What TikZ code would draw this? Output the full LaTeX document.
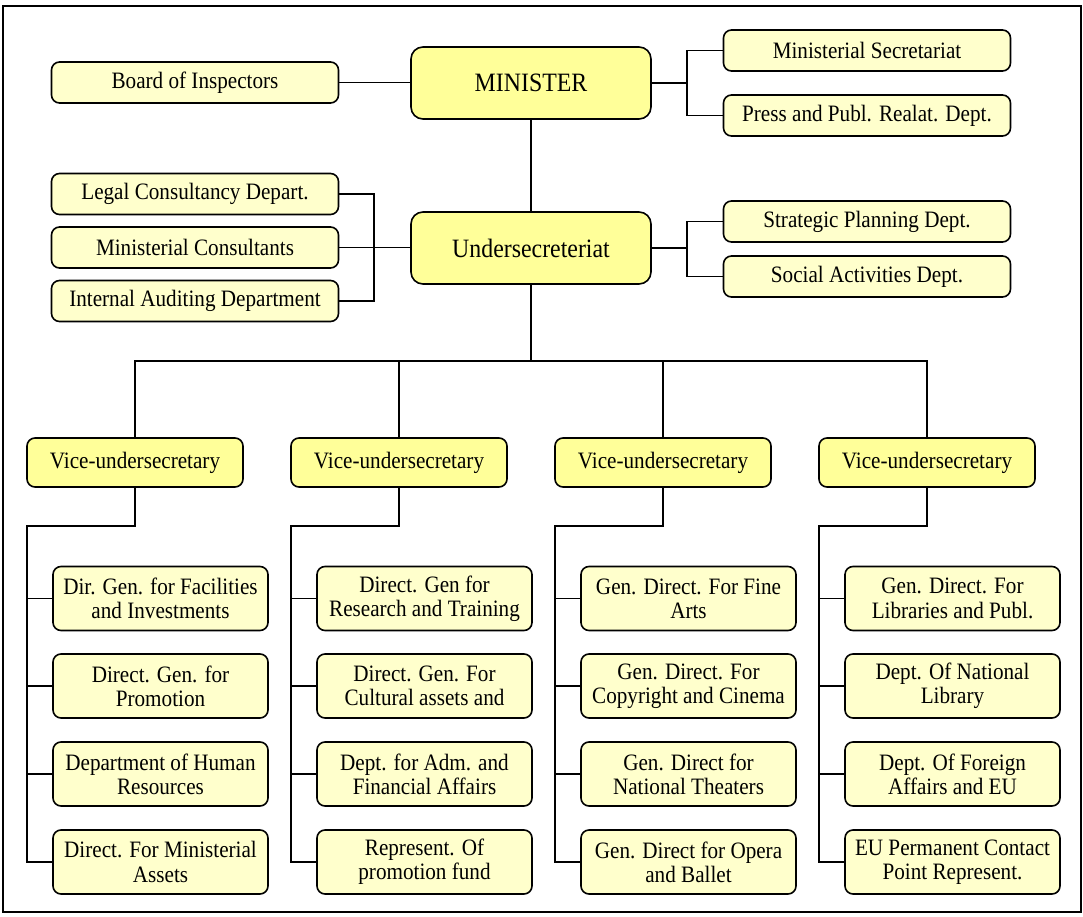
\documentclass[tikz,border=0pt]{standalone}
\usepackage{fontspec}
\setmainfont[FakeStretch=0.9]{Liberation Serif}
\usepackage{xcolor}
\usepackage{tikz}
\usetikzlibrary{calc}
\definecolor{headfill}{RGB}{255,255,153}
\definecolor{unitfill}{RGB}{255,255,204}
\newcommand{\headfont}{\fontsize{26.5}{30}\selectfont}
\newcommand{\boxfont}{\fontsize{23.5}{24.3}\selectfont}
\tikzset{
  head/.style ={draw, rounded corners=12pt, fill=headfill, font=\headfont, inner sep=0pt, line width=1.6pt,
                minimum width=240pt, minimum height=72pt},
  vice/.style ={draw, rounded corners=8pt, fill=headfill, font=\boxfont, inner sep=0pt, line width=1.6pt,
                minimum width=216pt, minimum height=49pt},
  unit/.style ={draw, rounded corners=8pt, fill=unitfill, font=\boxfont, inner sep=0pt, line width=1.6pt,
                minimum width=287pt, minimum height=41pt},
  dept/.style ={draw, rounded corners=8pt, fill=unitfill, font=\boxfont, inner sep=0pt, line width=1.6pt,
                align=center, minimum width=215pt, minimum height=64pt},
  link/.style ={line width=1.5pt},
  frame/.style={line width=1.5pt}
}

\begin{document}
\begin{tikzpicture}[x=1pt, y=-1pt]
  \useasboundingbox (0,0) rectangle (1083,917);
  \draw[frame] (3,6) rectangle (1081,912);
  \node[head] (min)   at (531, 83)    {MINISTER};
  \node[head] (under) at (531,248)    {Undersecreteriat};
  \node[unit] (board) at (195, 82.5)  {Board of Inspectors};
  \node[unit] (legal) at (195,194)    {Legal Consultancy Depart.};
  \node[unit] (cons)  at (195,247.5)  {Ministerial Consultants};
  \node[unit] (audit) at (195,301)    {Internal Auditing Department};
  \node[unit] (msec)  at (867, 50.5)  {Ministerial Secretariat};
  \node[unit] (press) at (867,115.5)  {Press and Publ. Realat. Dept.};
  \node[unit] (strat) at (867,221.5)  {Strategic Planning Dept.};
  \node[unit] (soc)   at (867,276.5)  {Social Activities Dept.};
  \node[vice] (v1) at (135,462.5) {Vice-undersecretary};
  \node[vice] (v2) at (399,462.5) {Vice-undersecretary};
  \node[vice] (v3) at (663,462.5) {Vice-undersecretary};
  \node[vice] (v4) at (927,462.5) {Vice-undersecretary};
  \node[dept] (d11) at (160.5,598.5) {Dir. Gen. for Facilities\\and Investments};
  \node[dept] (d12) at (160.5,686)   {Direct. Gen. for\\Promotion};
  \node[dept] (d13) at (160.5,774)   {Department of Human\\Resources};
  \node[dept] (d14) at (160.5,862)   {Direct. For Ministerial\\Assets};
  \node[dept] (d21) at (424.5,598.5) {Direct. Gen for\\Research and Training};
  \node[dept] (d22) at (424.5,686)   {Direct. Gen. For\\Cultural assets and};
  \node[dept] (d23) at (424.5,774)   {Dept. for Adm. and\\Financial Affairs};
  \node[dept] (d24) at (424.5,862)   {Represent. Of\\promotion fund};
  \node[dept] (d31) at (688.5,598.5) {Gen. Direct. For Fine\\Arts};
  \node[dept] (d32) at (688.5,686)   {Gen. Direct. For\\Copyright and Cinema};
  \node[dept] (d33) at (688.5,774)   {Gen. Direct for\\National Theaters};
  \node[dept] (d34) at (688.5,862)   {Gen. Direct for Opera\\and Ballet};
  \node[dept] (d41) at (952.5,598.5) {Gen. Direct. For\\Libraries and Publ.};
  \node[dept] (d42) at (952.5,686)   {Dept. Of National\\Library};
  \node[dept] (d43) at (952.5,774)   {Dept. Of Foreign\\Affairs and EU};
  \node[dept] (d44) at (952.5,862)   {EU Permanent Contact\\Point Represent.};
  \coordinate (mbr) at (687, 83);
  \coordinate (ubr) at (687,248);
  \coordinate (lbr) at (374,248);
  \coordinate (bus) at (531,361);
  \coordinate (s1) at (27,526);
  \coordinate (s2) at (291,526);
  \coordinate (s3) at (555,526);
  \coordinate (s4) at (819,526);
  \draw[link] (board.east) -- (board.east -| min.west);
  \draw[link] (min.east) -- (mbr);
  \draw[link] (msec.west) -| (mbr) |- (press.west);
  \draw[link] (min.south) -- (under.north);
  \draw[link] (under.east) -- (ubr);
  \draw[link] (strat.west) -| (ubr) |- (soc.west);
  \draw[link] (legal.east) -| (lbr) |- (audit.east);
  \draw[link] (cons.east) -- (cons.east -| under.west);
  \draw[link] (under.south) -- (bus);
  \draw[link] (v1.north) |- (bus) -| (v4.north);
  \draw[link] (v2.north) -- (v2.north |- bus);
  \draw[link] (v3.north) -- (v3.north |- bus);
  \draw[link] (v1.south) |- (s1) |- (d14.west);
  \draw[link] (v2.south) |- (s2) |- (d24.west);
  \draw[link] (v3.south) |- (s3) |- (d34.west);
  \draw[link] (v4.south) |- (s4) |- (d44.west);
  \draw[link] (d11.west) -- (d11.west -| s1) (d12.west) -- (d12.west -| s1) (d13.west) -- (d13.west -| s1);
  \draw[link] (d21.west) -- (d21.west -| s2) (d22.west) -- (d22.west -| s2) (d23.west) -- (d23.west -| s2);
  \draw[link] (d31.west) -- (d31.west -| s3) (d32.west) -- (d32.west -| s3) (d33.west) -- (d33.west -| s3);
  \draw[link] (d41.west) -- (d41.west -| s4) (d42.west) -- (d42.west -| s4) (d43.west) -- (d43.west -| s4);
\end{tikzpicture}
\end{document}
